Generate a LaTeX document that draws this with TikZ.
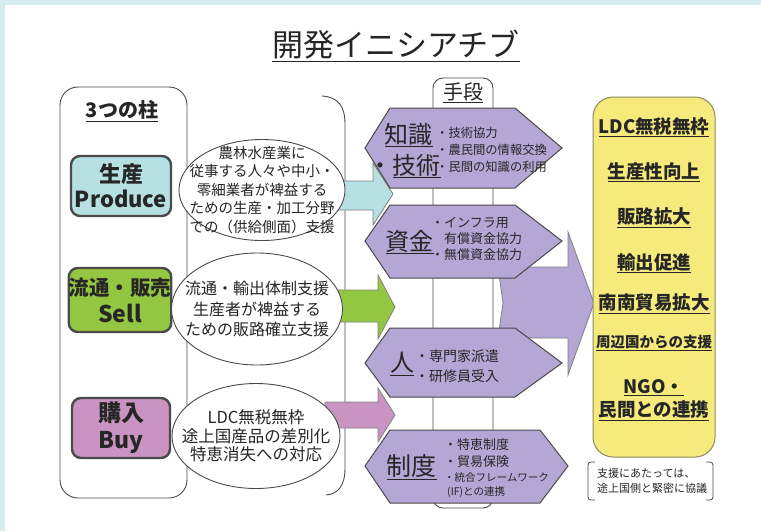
\documentclass[tikz,border=0pt]{standalone}
\usepackage{fontspec}
\setmainfont{Noto Sans CJK JP}
\usetikzlibrary{shapes.geometric}
\definecolor{framebg}{HTML}{D6EDF0}
\definecolor{linegray}{HTML}{4A4A4A}
\definecolor{cyanfill}{HTML}{B6E0E1}
\definecolor{greenfill}{HTML}{93C741}
\definecolor{pinkfill}{HTML}{C994C2}
\definecolor{lavfill}{HTML}{B4A6D5}
\definecolor{yellowfill}{HTML}{F6EA7C}
\definecolor{yellowline}{HTML}{8C8A5A}
\definecolor{textdark}{HTML}{262626}
\tikzset{
  thinline/.style={draw=linegray, line width=0.9pt},
  colbox/.style={draw=linegray, line width=2.4pt, rounded corners=9pt, inner sep=0pt, align=center, text=textdark, font=\fontsize{22}{25}\selectfont\bfseries},
  ellbox/.style={ellipse, draw=linegray, line width=0.9pt, fill=white, inner sep=0pt},
  elltext/.style={align=center, inner sep=0pt, text=textdark},
  blockarrow/.style={draw=linegray!70, line width=0.8pt},
  hexshape/.style={fill=lavfill, draw=linegray, line width=1pt},
  hexbig/.style={inner sep=0pt, text=textdark, font=\fontsize{24}{24}\selectfont},
  hexsmall/.style={inner sep=0pt, anchor=west, text=textdark},
  goal/.style={inner sep=0pt, text=textdark, font=\fontsize{18.5}{22}\selectfont\bfseries, align=center},
}
\begin{document}
\begin{tikzpicture}[x=1pt,y=-1pt]
\useasboundingbox (0,0) rectangle (761,531);
\fill[framebg] (0,0) rectangle (761,531);
\fill[white] (5,5) rectangle (761,531);

% title
\node[inner sep=0pt, text=textdark, font=\fontsize{31}{31}\selectfont] (title) at (396,46) {\underline{開発イニシアチブ}};

% left pillar frame and bracket
\draw[thinline, rounded corners=18pt] (60,87) rectangle (187,498);
\node[inner sep=0pt, text=textdark, font=\fontsize{20}{20}\selectfont\bfseries] (pillars) at (122,111) {\underline{3つの柱}};
\draw[thinline] (322,96) .. controls (338,97) and (345,106) .. (345,124) -- (345,468) .. controls (345,486) and (338,494) .. (326,495);

% middle column
\draw[thinline, rounded corners=10pt] (433,78) rectangle (493,508);
\node[inner sep=0pt, text=textdark, font=\fontsize{20}{20}\selectfont] (means) at (463,93) {\underline{手段}};

% block arrows from the ellipses
\filldraw[blockarrow, fill=cyanfill] (325,181) -- (373,181) -- (373,163) -- (393,194) -- (373,225) -- (373,210) -- (325,210) -- cycle;
\filldraw[blockarrow, fill=greenfill] (325,290) -- (378,290) -- (378,275) -- (395,307) -- (378,339) -- (378,322) -- (325,322) -- cycle;
\filldraw[blockarrow, fill=pinkfill] (325,402) -- (378,402) -- (378,388) -- (395,415) -- (378,442) -- (378,428) -- (325,428) -- cycle;

% big arrow to the goals
\filldraw[blockarrow, fill=lavfill] (498,267) -- (568,267) -- (568,232) -- (594,303) -- (568,375) -- (568,338) -- (498,338) -- (503,303) -- cycle;

% pillars
\node[colbox, fill=cyanfill, minimum width=100pt, minimum height=60pt] (produce) at (121,186) {生産\\Produce};
\node[colbox, fill=greenfill, minimum width=100pt, minimum height=64pt, font=\fontsize{20.5}{26}\selectfont\bfseries] (sell) at (120,300) {流通・販売\\[1pt]{\fontsize{23}{23}\selectfont Sell}};
\node[colbox, fill=pinkfill, minimum width=98pt, minimum height=60pt, font=\fontsize{23}{27}\selectfont\bfseries] (buy) at (121,428) {購入\\Buy};

% ellipses
\node[ellbox, minimum width=166pt, minimum height=101pt] (ell1) at (262,190) {};
\node[elltext, font=\fontsize{14.5}{18.5}\selectfont] (ell1t) at (ell1) {農林水産業に\\従事する人々や中小・\\零細業者が裨益する\\ための生産・加工分野\\での（供給側面）支援};
\node[ellbox, minimum width=171pt, minimum height=112pt] (ell2) at (257,309) {};
\node[elltext, font=\fontsize{16}{20.5}\selectfont] (ell2t) at (ell2) {流通・輸出体制支援\\生産者が裨益する\\ための販路確立支援};
\node[ellbox, minimum width=168pt, minimum height=105pt] (ell3) at (256,436) {};
\node[elltext, font=\fontsize{16.5}{18.5}\selectfont] (ell3t) at (ell3) {LDC無税無枠\\途上国産品の差別化\\特恵消失への対応};

% hexagon 1
\filldraw[hexshape] (365,148) -- (390,108) -- (515,108) -- (562,148) -- (515,188) -- (390,188) -- cycle;
\node[hexbig, anchor=east] (h1a) at (433,135) {\underline{知識}};
\node[hexbig, anchor=east] (h1b) at (441,166) {・\underline{技術}};
\node[hexsmall, align=left, font=\fontsize{12.3}{17}\selectfont] (h1c) at (436,150) {・技術協力\\・農民間の情報交換\\・民間の知識の利用};

% hexagon 2
\filldraw[hexshape] (365,241) -- (390,205) -- (515,205) -- (562,241) -- (515,278) -- (390,278) -- cycle;
\node[hexbig, anchor=east] (h2a) at (434,242) {\underline{資金}};
\node[hexsmall, align=left, font=\fontsize{13}{16}\selectfont] (h2b) at (431,239) {・インフラ用\\\hspace*{13pt}有償資金協力\\・無償資金協力};

% hexagon 3
\filldraw[hexshape] (365,363) -- (390,328) -- (515,328) -- (562,363) -- (515,397) -- (390,397) -- cycle;
\node[hexbig] (h3a) at (402,364) {\underline{人}};
\node[hexsmall, align=left, font=\fontsize{14}{20}\selectfont] (h3b) at (415,366) {・専門家派遣\\・研修員受入};

% hexagon 4
\filldraw[hexshape] (365,466) -- (390,430) -- (540,430) -- (568,466) -- (540,503) -- (390,503) -- cycle;
\node[hexbig, anchor=east, font=\fontsize{25}{25}\selectfont] (h4a) at (437,467) {\underline{制度}};
\node[hexsmall, align=left, font=\fontsize{13}{17}\selectfont] (h4b) at (444,453) {・特恵制度\\・貿易保険};
\node[hexsmall, align=left, font=\fontsize{10.5}{14}\selectfont] (h4d) at (444,485) {・統合フレームワーク\\\hspace*{3pt}(IF)との連携};

% goals box
\node[draw=yellowline, line width=1pt, fill=yellowfill, rounded corners=20pt, minimum width=122pt, minimum height=360pt, inner sep=0pt] (goals) at (654,277) {};
\node[goal] (g1) at (654,127) {\underline{LDC無税無枠}};
\node[goal] (g2) at (654,172) {\underline{生産性向上}};
\node[goal] (g3) at (654,218) {\underline{販路拡大}};
\node[goal] (g4) at (654,263) {\underline{輸出促進}};
\node[goal] (g5) at (654,304) {\underline{南南貿易拡大}};
\node[goal, font=\fontsize{14.5}{14.5}\selectfont\bfseries] (g6) at (654,343) {\underline{周辺国からの支援}};
\node[goal] (g7) at (654,400) {\underline{NGO・}\\[1pt]\underline{民間との連携}};

% note
\draw[thinline, line width=0.8pt, rounded corners=3pt] (595,462) -- (588,462) -- (588,500) -- (595,500);
\draw[thinline, line width=0.8pt, rounded corners=3pt] (706,462) -- (713,462) -- (713,500) -- (706,500);
\node[inner sep=0pt, anchor=west, align=left, text=textdark, font=\fontsize{11}{15}\selectfont] (note) at (597,481) {支援にあたっては、\\途上国側と緊密に協議};
\end{tikzpicture}
\end{document}
